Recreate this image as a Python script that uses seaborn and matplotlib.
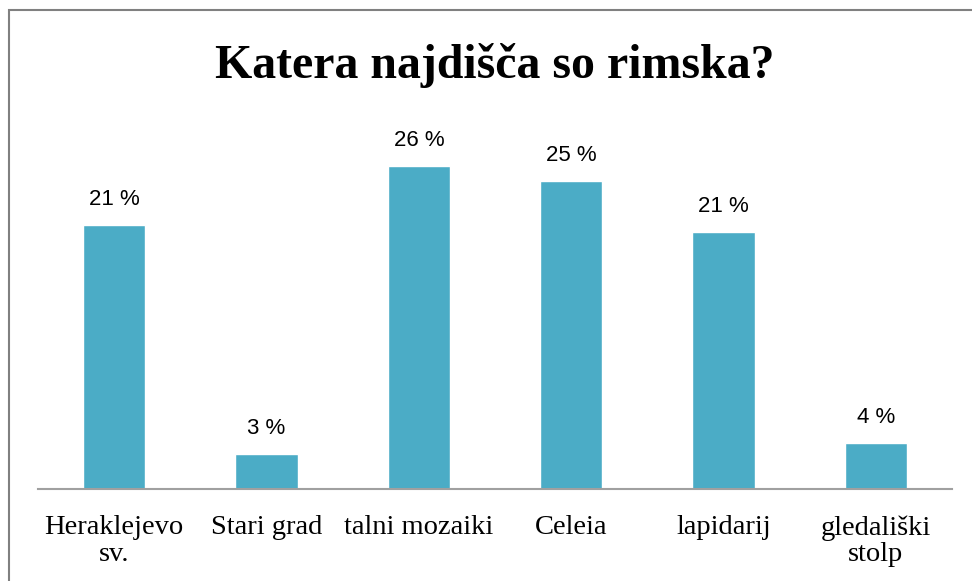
import seaborn as sns
import matplotlib.pyplot as plt
import pandas as pd
from matplotlib.patches import Rectangle

categories = ["Heraklejevo\nsv.", "Stari grad", "talni mozaiki", "Celeia", "lapidarij", "gledališki\nstolp"]
values = [21.3, 2.8, 26.0, 24.8, 20.7, 3.7]
labels = ["21 %", "3 %", "26 %", "25 %", "21 %", "4 %"]

df = pd.DataFrame({"kategorija": categories, "delez": values})

sns.set_style("white")

fig = plt.figure(figsize=(9.72, 5.81), dpi=100)
ax = fig.add_axes([38 / 972, 1 - 489 / 581, 914 / 972, 360 / 581])

sns.barplot(data=df, x="kategorija", y="delez", color="#4BACC6", saturation=1, width=0.41, ax=ax)

for i, (v, lab) in enumerate(zip(values, labels)):
    ax.text(i, v + 1.6, lab, ha="center", va="baseline", fontsize=16, family="Liberation Sans", color="black")

ax.set_ylim(0, 29)
ax.set_xlim(-0.5, len(categories) - 0.5)
ax.set_xlabel("")
ax.set_ylabel("")
ax.set_yticks([])
for s in ["top", "right", "left"]:
    ax.spines[s].set_visible(False)
ax.spines["bottom"].set_color("#A0A0A0")
ax.spines["bottom"].set_linewidth(1.5)
ax.tick_params(axis="x", length=0, pad=19)
for t in ax.get_xticklabels():
    t.set_family("Liberation Serif")
    t.set_fontsize(20.5)
    t.set_color("black")
    t.set_linespacing(1.07)

fig.text(495 / 972, 1 - 66 / 581, "Katera najdišča so rimska?", ha="center", va="center",
         fontsize=34.5, fontweight="bold", family="Liberation Serif", color="black")

fig.patches.append(Rectangle((9 / 972, -0.01), 1.0, 1 - 10 / 581 + 0.01, transform=fig.transFigure,
                             fill=False, edgecolor="#808080", linewidth=1.5))

fig.savefig("out.png", dpi=100)
